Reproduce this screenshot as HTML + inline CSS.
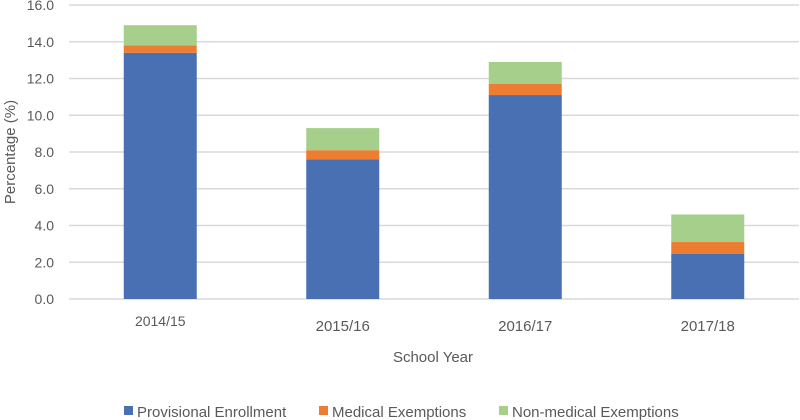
<!DOCTYPE html>
<html><head><meta charset="utf-8"><style>
body{margin:0;background:#fff;}
svg{display:block;font-family:"Liberation Sans",sans-serif;}
</style></head><body>
<svg id="chart" width="800" height="420"></svg>
<script>
const categories=["2014/15","2015/16","2016/17","2017/18"];
const provisional=[13.4,7.6,11.1,2.45];
const medical=[0.4,0.5,0.6,0.65];
const nonMedical=[1.1,1.2,1.2,1.5];
const yTicks=[0,2,4,6,8,10,12,14,16];
const seriesNames=["Provisional Enrollment","Medical Exemptions","Non-medical Exemptions"];
const colors=["#4870b3","#ed7d31","#a5cf8a"];
const NS="http://www.w3.org/2000/svg";
const svg=document.getElementById('chart');
const x0=69,x1=799,yBase=299,yTop=5;
function y(v){return yBase-(v/16)*(yBase-yTop);}
function xc(i){return x0+(i+0.5)*(x1-x0)/categories.length;}
function mk(t,a,txt){const e=document.createElementNS(NS,t);for(const k in a)e.setAttribute(k,a[k]);if(txt!==undefined)e.textContent=txt;svg.appendChild(e);return e;}
yTicks.forEach(t=>{
  const l=mk('line',{x1:x0,x2:x1,y1:y(t),y2:y(t),stroke:'#d9d9d9','stroke-width':1.5});
  
  
  const tx=mk('text',{x:54,y:y(t)+5,'text-anchor':'end','font-size':14,fill:'#595959'},t.toFixed(1));
  
  
});
const series=[provisional,medical,nonMedical];
categories.forEach((c,i)=>{
  let acc=0;
  series.forEach((s,j)=>{
    const r=mk('rect',{x:xc(i)-36.5,width:73,y:y(acc+s[i]),height:y(acc)-y(acc+s[i]),fill:colors[j]});
    
    
    acc+=s[i];
  });
  const fs=i===0?14:15, ly=i===0?326:331;
  const t=mk('text',{x:xc(i),y:ly,'text-anchor':'middle','font-size':fs,fill:'#595959'},c);
  
  
});
const xt=mk('text',{x:433,y:362,'text-anchor':'middle','font-size':15,fill:'#595959'},'School Year');


const yt=mk('text',{x:0,y:0,'text-anchor':'middle','font-size':15,fill:'#595959',transform:'translate(15,152) rotate(-90)'},'Percentage (%)');


const lx=[124,319,499];
seriesNames.forEach((n,j)=>{
  const r=mk('rect',{x:lx[j],y:406,width:9,height:9,fill:colors[j]});
  
  
  const t=mk('text',{x:lx[j]+13,y:417,'font-size':15,fill:'#595959'},n);
  
  
});
</script>
</body></html>
